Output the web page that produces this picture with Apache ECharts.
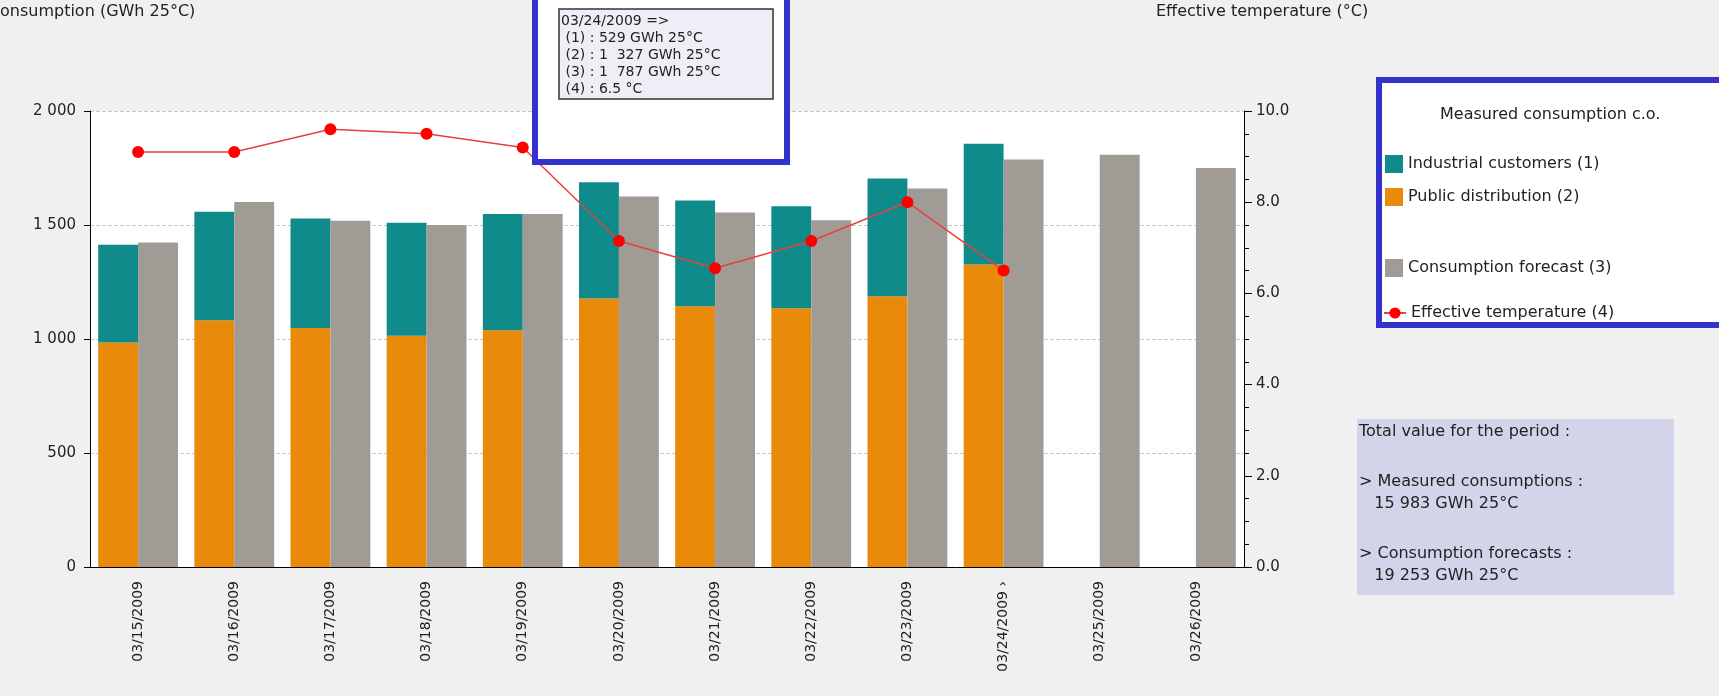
<!DOCTYPE html>
<html>
<head>
<meta charset="utf-8">
<script src="https://cdn.jsdelivr.net/npm/echarts@6/dist/echarts.min.js"></script>
<style>html,body{margin:0;background:#f0f0f0}#c{width:1719px;height:696px}</style>
</head>
<body>
<div id="c"></div>
<script>
var days = ['03/15/2009','03/16/2009','03/17/2009','03/18/2009','03/19/2009','03/20/2009',
            '03/21/2009','03/22/2009','03/23/2009','03/24/2009 ›','03/25/2009','03/26/2009'];
var publicDist = [985, 1082, 1048, 1014, 1038, 1178, 1144, 1135, 1188, 1327, null, null];
var industrial = [428, 476, 481, 496, 510, 510, 464, 447, 516, 529, null, null];
var forecast = [1423, 1601, 1519, 1500, 1548, 1625, 1555, 1521, 1660, 1787, 1808, 1750];
var temperature = [9.1, 9.1, 9.6, 9.5, 9.2, 7.15, 6.55, 7.15, 8.0, 6.5, null, null];

var font = 'DejaVu Sans';
function spaced(v) { return String(v).replace(/\B(?=(\d{3})+(?!\d))/g, ' '); }

var chart = echarts.init(document.getElementById('c'));
var option = {
    backgroundColor: '#f0f0f0',
    animation: false,
    textStyle: { fontFamily: font },
    grid: { left: 90, right: 475, top: 111, bottom: 129, show: true, backgroundColor: '#fff', borderWidth: 0 },
    legend: [
        { orient: 'vertical', left: 1380, top: 150, itemWidth: 18, itemHeight: 18, itemGap: 15, icon: 'rect',
          textStyle: { fontSize: 16, color: '#222' }, data: ['Industrial customers (1)', 'Public distribution (2)'] },
        { orient: 'vertical', left: 1380, top: 254, itemWidth: 18, itemHeight: 18, icon: 'rect',
          textStyle: { fontSize: 16, color: '#222' }, data: ['Consumption forecast (3)'] },
        { orient: 'vertical', left: 1378, top: 300, itemWidth: 22, itemHeight: 14,
          textStyle: { fontSize: 16, color: '#222' }, data: ['Effective temperature (4)'] }
    ],
    xAxis: {
        type: 'category', data: days,
        axisLine: { lineStyle: { color: '#000' } },
        axisTick: { length: 6, lineStyle: { color: '#000' } },
        axisLabel: { rotate: 90, fontSize: 14, color: '#222', margin: 14 }
    },
    yAxis: [
        { type: 'value', min: 0, max: 2000, interval: 500,
          axisLine: { show: true, lineStyle: { color: '#000' } },
          axisTick: { show: true, length: 6, lineStyle: { color: '#000' } },
          axisLabel: { fontSize: 15, color: '#222', margin: 14, formatter: spaced },
          splitLine: { lineStyle: { type: 'dashed', color: '#c8c8c8' } } },
        { type: 'value', min: 0, max: 10, interval: 2,
          axisLine: { show: true, lineStyle: { color: '#000' } },
          axisTick: { show: true, length: 8, lineStyle: { color: '#000' } },
          minorTick: { show: true, splitNumber: 4, length: 5, lineStyle: { color: '#000' } },
          axisLabel: { fontSize: 15, color: '#222', margin: 12, formatter: function (v) { return v.toFixed(1); } },
          splitLine: { show: false } }
    ],
    series: [
        { name: 'Public distribution (2)', type: 'bar', stack: 'm', data: publicDist,
          itemStyle: { color: '#e98a0a' }, barGap: '0%', barCategoryGap: '17%' },
        { name: 'Industrial customers (1)', type: 'bar', stack: 'm', data: industrial,
          itemStyle: { color: '#108b8b' } },
        { name: 'Consumption forecast (3)', type: 'bar', data: forecast,
          itemStyle: { color: '#a09b94' } },
        { name: 'Effective temperature (4)', type: 'line', yAxisIndex: 1, data: temperature,
          symbol: 'circle', symbolSize: 12, z: 5,
          lineStyle: { color: '#e84040', width: 1.5 }, itemStyle: { color: '#f00' } }
    ],
    graphic: [
        { type: 'text', left: 0, top: 4, style: { text: 'onsumption (GWh 25°C)', font: '16px ' + font, fill: '#222' } },
        { type: 'text', left: 1156, top: 4, style: { text: 'Effective temperature (°C)', font: '16px ' + font, fill: '#222' } },
        // legend frame
        { type: 'rect', shape: { x: 1379, y: 80, width: 350, height: 245 },
          style: { fill: '#fff', stroke: '#3333cc', lineWidth: 6 }, z: -1 },
        { type: 'text', left: 1440, top: 107, style: { text: 'Measured consumption c.o.', font: '16px ' + font, fill: '#222' } },
        // tooltip frame
        { type: 'rect', shape: { x: 535, y: -5, width: 252, height: 167 },
          style: { fill: '#fff', stroke: '#3333cc', lineWidth: 6 }, z: 10 },
        { type: 'rect', shape: { x: 559, y: 9, width: 214, height: 90 },
          style: { fill: '#eeeef6', stroke: '#333', lineWidth: 1.5 }, z: 11 },
        { type: 'text', left: 561, top: 13, z: 12,
          style: { text: '03/24/2009 =>\n (1) : 529 GWh 25°C\n (2) : 1  327 GWh 25°C\n (3) : 1  787 GWh 25°C\n (4) : 6.5 °C',
                   font: '14px ' + font, fill: '#222', lineHeight: 17 } },
        // totals box
        { type: 'rect', shape: { x: 1357, y: 419, width: 317, height: 176 }, style: { fill: '#d3d4ea' }, z: -1 },
        { type: 'text', left: 1359, top: 424,
          style: { text: 'Total value for the period :', font: '16px ' + font, fill: '#222' } },
        { type: 'text', left: 1359, top: 471,
          style: { text: '> Measured consumptions :\n   15 983 GWh 25°C', font: '16px ' + font, fill: '#222', lineHeight: 22 } },
        { type: 'text', left: 1359, top: 543,
          style: { text: '> Consumption forecasts :\n   19 253 GWh 25°C', font: '16px ' + font, fill: '#222', lineHeight: 22 } }
    ]
};
chart.setOption(option);
</script>
</body>
</html>
